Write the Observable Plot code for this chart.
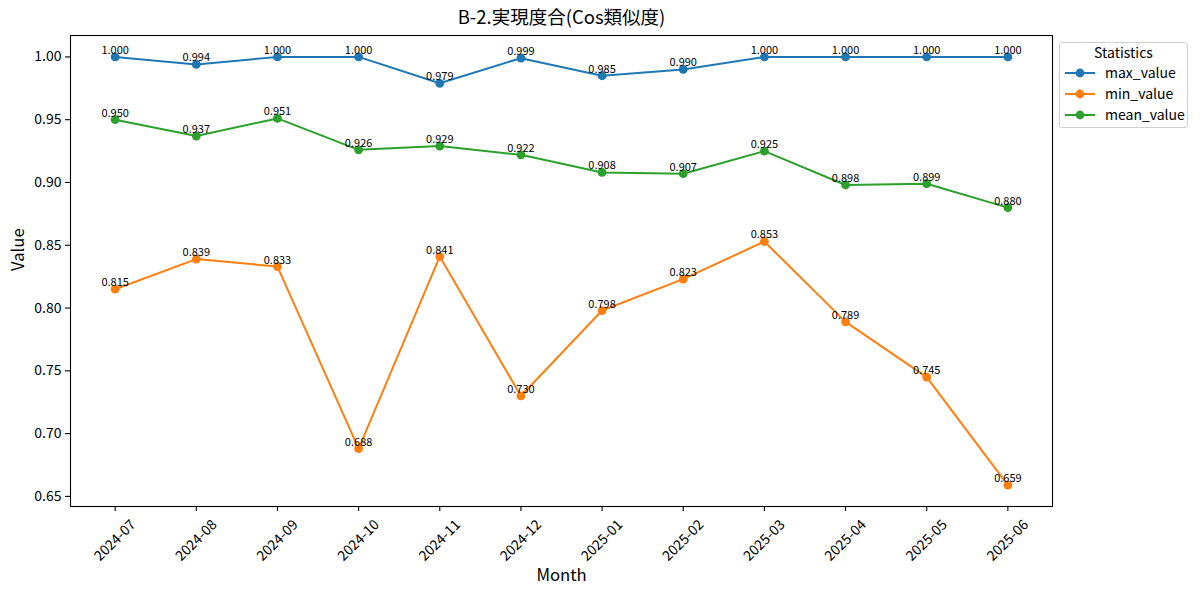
<!DOCTYPE html>
<html>
<head>
<meta charset="utf-8">
<script src="https://cdn.jsdelivr.net/npm/d3@7"></script>
<script src="https://cdn.jsdelivr.net/npm/@observablehq/plot@0.6"></script>
<style>
  html, body { margin: 0; padding: 0; background: #fff; }
  body { font-family: "Noto Sans CJK JP", "Noto Sans", sans-serif; }
  #wrap { position: relative; width: 1200px; height: 595px; overflow: hidden; }
  #chart { position: absolute; left: 0; top: 0; }
  #legend {
    position: absolute; left: 1059px; top: 42px; width: 129px; height: 86px;
    border: 1px solid #d0d0d0; border-radius: 3px; background: rgba(255,255,255,0.8);
    box-sizing: border-box; font-size: 14px; color: #000;
  }
  #legend .ttl { position: absolute; left: 0; right: 0; top: -1px; text-align: center; line-height: 20px; }
  #legend .item { position: absolute; left: 3px; height: 20px; line-height: 20px; white-space: nowrap; }
  #legend .item svg { position: absolute; left: 0; top: 0; }
  #legend .item span { position: absolute; left: 42px; top: -1px; }
</style>
</head>
<body>
<div id="wrap">
  <div id="chart"></div>
  <div id="legend"></div>
</div>
<script>
const months = ["2024-07","2024-08","2024-09","2024-10","2024-11","2024-12","2025-01","2025-02","2025-03","2025-04","2025-05","2025-06"];
const seriesNames = ["max_value","min_value","mean_value"];
const seriesColors = ["#1f77b4","#ff7f0e","#2ca02c"];
const maxValue  = [1.000, 0.994, 1.000, 1.000, 0.979, 0.999, 0.985, 0.990, 1.000, 1.000, 1.000, 1.000];
const minValue  = [0.815, 0.839, 0.833, 0.688, 0.841, 0.730, 0.798, 0.823, 0.853, 0.789, 0.745, 0.659];
const meanValue = [0.950, 0.937, 0.951, 0.926, 0.929, 0.922, 0.908, 0.907, 0.925, 0.898, 0.899, 0.880];
const yTicks = [0.65, 0.70, 0.75, 0.80, 0.85, 0.90, 0.95, 1.00];
const titleText = "B-2.実現度合(Cos類似度)";
const legendTitle = "Statistics";

const seriesValues = [maxValue, minValue, meanValue];
const rows = [];
seriesNames.forEach((s, k) => {
  seriesValues[k].forEach((v, i) => rows.push({series: s, i, month: months[i], value: v}));
});

const n = months.length;
const vals = rows.map(d => d.value);
const lo = d3.min(vals), hi = d3.max(vals);
const padY = (hi - lo) * 0.05;
const padX = (n - 1) * 0.05;
const font = '"Noto Sans CJK JP", "Noto Sans", sans-serif';

const chart = Plot.plot({
  width: 1200,
  height: 595,
  marginLeft: 70,
  marginRight: 148,
  marginTop: 35,
  marginBottom: 89,
  style: {fontFamily: font, background: "#fff", color: "#000"},
  x: {type: "linear", domain: [-padX, n - 1 + padX]},
  y: {domain: [lo - padY, hi + padY]},
  color: {domain: seriesNames, range: seriesColors},
  marks: [
    Plot.axisY({ticks: yTicks, tickFormat: d3.format(".2f"), tickSize: 5, tickPadding: 4, fontSize: 14, label: null, stroke: "#000", strokeWidth: 1.1, strokeOpacity: 1}),
    Plot.axisX({ticks: d3.range(n), tickFormat: () => "", tickSize: 5, label: null, stroke: "#000", strokeWidth: 1.1, strokeOpacity: 1}),
    Plot.text(months, {x: (d, i) => i, frameAnchor: "bottom", dy: 34, rotate: -45, text: d => d, textAnchor: "middle", lineAnchor: "middle", fontSize: 14, fill: "#000"}),
    Plot.frame({stroke: "#000", strokeWidth: 1.1}),
    Plot.line(rows, {x: "i", y: "value", z: "series", stroke: "series", strokeWidth: 2}),
    Plot.dot(rows, {x: "i", y: "value", fill: "series", r: 4.4, stroke: "none"}),
    Plot.text(rows, {x: "i", y: "value", text: d => d.value.toFixed(3), lineAnchor: "bottom", dy: -3, fontSize: 11, fill: "#000"}),
    Plot.text([titleText], {frameAnchor: "top", dy: -17, lineAnchor: "middle", fontSize: 18.5, fill: "#000", text: d => d}),
    Plot.text(["Month"], {frameAnchor: "bottom", dy: 69, lineAnchor: "middle", fontSize: 16.7, fill: "#000", text: d => d}),
    Plot.text(["Value"], {frameAnchor: "left", dx: -52, rotate: -90, lineAnchor: "middle", fontSize: 16.7, fill: "#000", text: d => d})
  ]
});
document.getElementById("chart").appendChild(chart);

// Legend
const legend = document.getElementById("legend");
const t = document.createElement("div");
t.className = "ttl"; t.textContent = legendTitle;
legend.appendChild(t);
seriesNames.forEach((s, k) => {
  const it = document.createElement("div");
  it.className = "item";
  it.style.top = (20 + k * 21) + "px";
  it.innerHTML = `<svg width="36" height="20"><line x1="2" y1="10" x2="32" y2="10" stroke="${seriesColors[k]}" stroke-width="2"/><circle cx="17" cy="10" r="4.4" fill="${seriesColors[k]}"/></svg><span>${s}</span>`;
  legend.appendChild(it);
});
</script>
</body>
</html>
